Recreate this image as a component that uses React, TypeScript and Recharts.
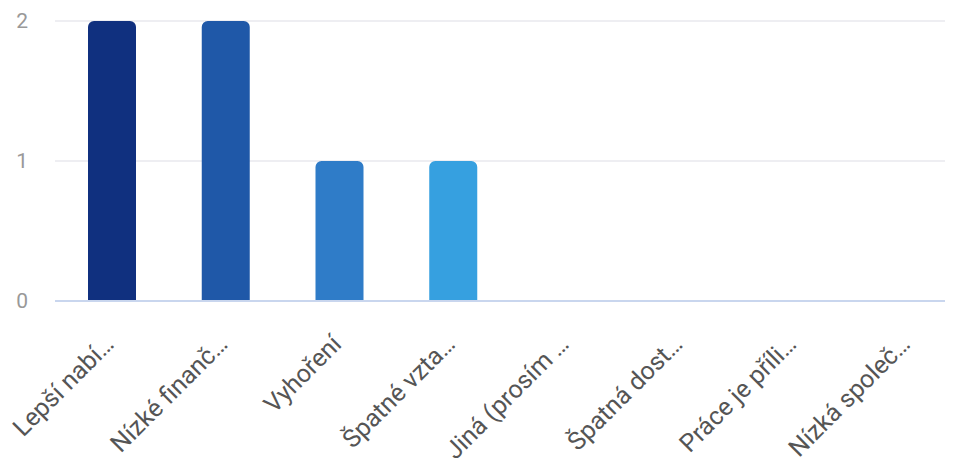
import { BarChart, Bar, XAxis, YAxis, CartesianGrid, Cell } from 'recharts';

const categories = [
  'Lepší nabí…',
  'Nízké finanč…',
  'Vyhoření',
  'Špatné vzta…',
  'Jiná (prosím …',
  'Špatná dost…',
  'Práce je příli…',
  'Nízká společ…',
];

const counts = [2, 2, 1, 1, 0, 0, 0, 0];

const colors = ['#10307f', '#1f58a8', '#2f7cc8', '#36a0e0', '#4fb6e8', '#6cc7ee', '#8ad5f2', '#a8e1f6'];

const yTicks = [0, 1, 2];

const chartData = categories.map((name, i) => ({ name, count: counts[i] }));

export default function App() {
  return (
    <div style={{ margin: -8, width: 953, height: 466, overflow: 'hidden', background: '#fff' }}>
      <BarChart
        width={965}
        height={466}
        data={chartData}
        margin={{ top: 21, right: 0, bottom: 0, left: 0 }}
      >
        <CartesianGrid vertical={false} stroke="#e8e8ee" strokeWidth={1.5} />
        <XAxis
          dataKey="name"
          interval={0}
          height={165}
          angle={-45}
          textAnchor="end"
          tickLine={false}
          tickSize={0}
          tickMargin={32}
          stroke="#c9d6ee"
          strokeWidth={2}
          tick={{ fill: '#555', fontSize: 25, fontFamily: 'Roboto', dx: -9 }}
        />
        <YAxis
          ticks={yTicks}
          domain={[0, 2]}
          width={55}
          axisLine={false}
          tickLine={false}
          tickSize={0}
          tickMargin={27}
          tick={{ fill: '#999', fontSize: 21, fontFamily: 'Roboto' }}
        />
        <Bar dataKey="count" barSize={48} radius={[6, 6, 0, 0]} isAnimationActive={false}>
          {chartData.map((d, i) => (
            <Cell key={d.name} fill={colors[i]} />
          ))}
        </Bar>
      </BarChart>
    </div>
  );
}
